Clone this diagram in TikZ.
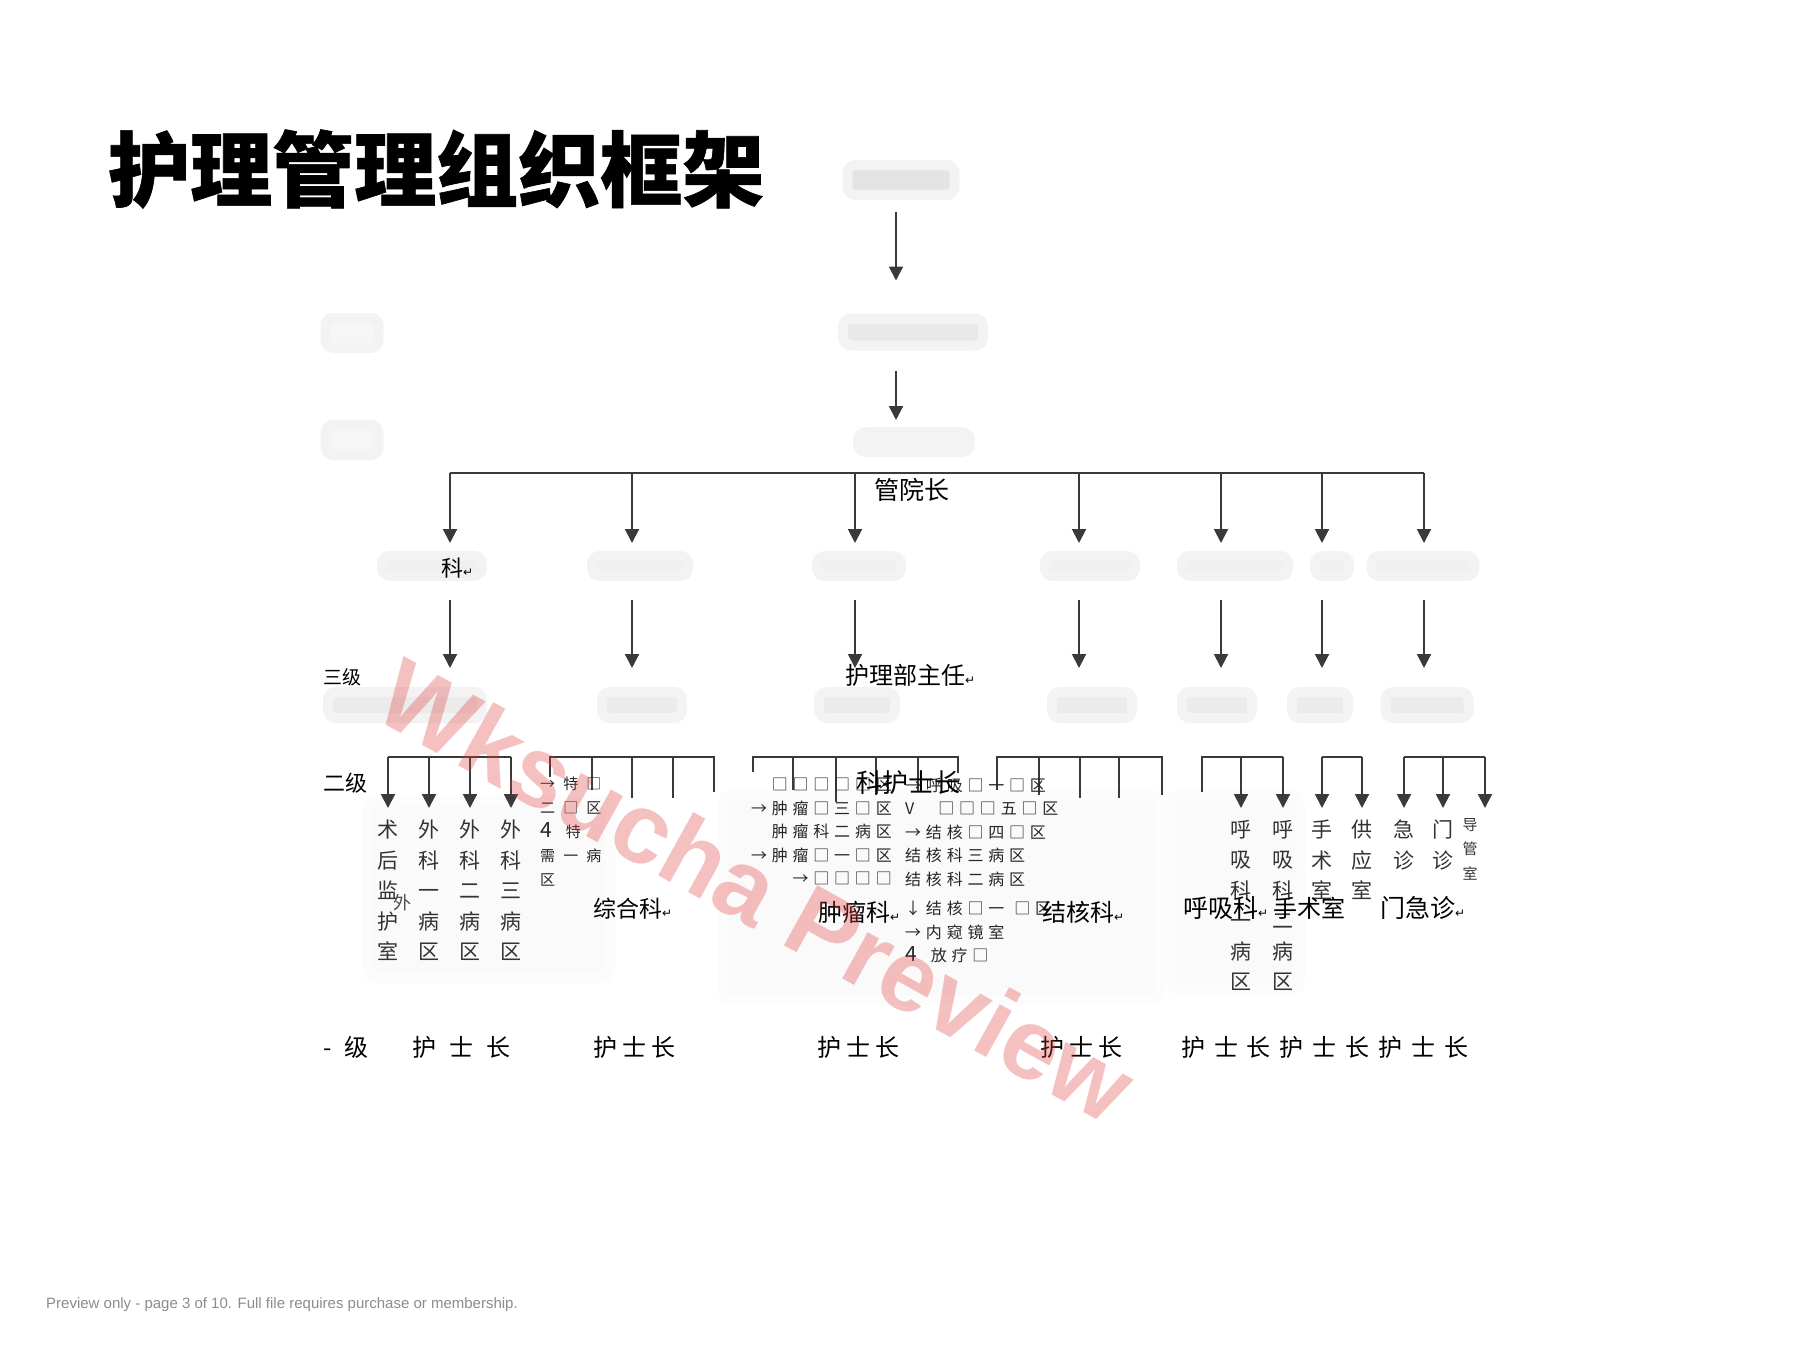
\documentclass[tikz,border=0pt]{standalone}
\usepackage{fontspec}
\setmainfont{Liberation Sans}
\newfontfamily\cjk{Noto Sans CJK SC}
\newfontfamily\cjktitle[BoldFeatures={FakeBold=0.8}]{Noto Sans CJK SC}
\newfontfamily\cjkn[LetterSpace=21]{Noto Sans CJK SC}
\newfontfamily\cjkw[LetterSpace=30]{Noto Sans CJK SC}
\newfontfamily\cjky[LetterSpace=37]{Noto Sans CJK SC}
\newfontfamily\cjkx[LetterSpace=54]{Noto Sans CJK SC}
\newfontfamily\symfont{DejaVu Sans}
\usetikzlibrary{arrows.meta, positioning, calc}
\definecolor{linegray}{HTML}{3A3A3A}
\definecolor{smudgegray}{HTML}{E4E4E4}
\definecolor{markpink}{HTML}{E23C3C}
\definecolor{footgray}{HTML}{8C8C8C}
\newcommand{\pxsize}[1]{\fontsize{#1}{#1}\selectfont}
\newcommand{\pxline}[2]{\fontsize{#1}{#2}\selectfont}
\newcommand{\ret}{{\symfont\fontsize{12}{12}\selectfont\char"21B5}}

\begin{document}
\begin{tikzpicture}[x=1pt, y=-1pt,
  line/.style={draw=linegray, line width=2pt},
  arrow/.style={line, -{Triangle[width=14pt, length=14pt]}},
  smudge/.style={fill=smudgegray, draw=smudgegray!45, line width=10pt, rounded corners=8pt, inner sep=0pt},
  haze/.style={fill=black!2, draw=black!1, line width=10pt, rounded corners=10pt},
  lbl/.style={inner sep=0pt, font=\cjk\pxsize{24}},
  vcol/.style={inner sep=0pt, anchor=north, align=center, text=black!80, font=\cjk\pxline{21}{30.4}},
  memo/.style={inner sep=0pt, text=black!85, font=\cjkw\pxline{16}{23.5}}
]
  % Page
  \fill[white] (0,0) rectangle (1800,1350);
  \useasboundingbox (0,0) rectangle (1800,1350);

  % Faded scan
  \filldraw[haze] (367,800) rectangle (610,978);
  \filldraw[haze] (723,795) rectangle (1160,1000);
  \filldraw[haze] (1170,795) rectangle (1300,990);

  % Title
  \node[inner sep=0pt, anchor=west, font=\cjktitle\bfseries\pxsize{82}] (title) at (108,169) {护理管理组织框架};

  % Blurred top chain
  \node[smudge, minimum width=107pt, minimum height=30pt] (dean) at (901,180) {};
  \node[smudge, fill=smudgegray!80, minimum width=140pt, minimum height=27pt] (vice) at (913,332) {};
  \node[smudge, fill=smudgegray!45, minimum width=112pt, minimum height=20pt] (dept) at (914,442) {};
  \node[smudge, fill=smudgegray!35, minimum width=53pt, minimum height=30pt] (sideA) at (352,333) {};
  \node[smudge, fill=smudgegray!35, minimum width=53pt, minimum height=30pt] (sideB) at (352,440) {};
  \coordinate (axis) at (896,0);
  \draw[arrow, shorten <=12pt, shorten >=33pt] (axis |- dean.south) -- (axis |- vice.north);
  \draw[arrow, shorten <=20pt, shorten >=7pt] (axis |- vice.south) -- (axis |- dept.north);

  % Main bar
  \coordinate (c1) at (450,473);
  \coordinate (c2) at (632,473);
  \coordinate (c3) at (855,473);
  \coordinate (c4) at (1079,473);
  \coordinate (c5) at (1221,473);
  \coordinate (c6) at (1322,473);
  \coordinate (c7) at (1424,473);
  \draw[line] (c1) -- (c7);

  % Blurred department row
  \node[smudge, fill=smudgegray!55, minimum width=100pt, minimum height=20pt] (k1) at (432,566) {};
  \node[smudge, fill=smudgegray!55, minimum width=96pt, minimum height=20pt] (k2) at (640,566) {};
  \node[smudge, fill=smudgegray!55, minimum width=84pt, minimum height=20pt] (k3) at (859,566) {};
  \node[smudge, fill=smudgegray!55, minimum width=90pt, minimum height=20pt] (k4) at (1090,566) {};
  \node[smudge, fill=smudgegray!55, minimum width=106pt, minimum height=20pt] (k5) at (1235,566) {};
  \node[smudge, fill=smudgegray!55, minimum width=34pt, minimum height=20pt] (k6) at (1332,566) {};
  \node[smudge, fill=smudgegray!55, minimum width=103pt, minimum height=20pt] (k7) at (1423,566) {};

  % Blurred head nurse row
  \node[smudge, fill=smudgegray!75, minimum width=154pt, minimum height=26pt] (h1) at (405,705) {};
  \node[smudge, fill=smudgegray!75, minimum width=80pt, minimum height=26pt] (h2) at (642,705) {};
  \node[smudge, fill=smudgegray!75, minimum width=76pt, minimum height=26pt] (h3) at (857,705) {};
  \node[smudge, fill=smudgegray!75, minimum width=80pt, minimum height=26pt] (h4) at (1092,705) {};
  \node[smudge, fill=smudgegray!75, minimum width=70pt, minimum height=26pt] (h5) at (1217,705) {};
  \node[smudge, fill=smudgegray!75, minimum width=56pt, minimum height=26pt] (h6) at (1320,705) {};
  \node[smudge, fill=smudgegray!75, minimum width=83pt, minimum height=26pt] (h7) at (1427,705) {};

  \draw[arrow, shorten >=8pt] (c1) -- (c1 |- k1.north);
  \draw[arrow, shorten >=8pt] (c2) -- (c2 |- k2.north);
  \draw[arrow, shorten >=8pt] (c3) -- (c3 |- k3.north);
  \draw[arrow, shorten >=8pt] (c4) -- (c4 |- k4.north);
  \draw[arrow, shorten >=8pt] (c5) -- (c5 |- k5.north);
  \draw[arrow, shorten >=8pt] (c6) -- (c6 |- k6.north);
  \draw[arrow, shorten >=8pt] (c7) -- (c7 |- k7.north);

  \draw[arrow, shorten <=19pt, shorten >=19pt] (c1 |- k1.south) -- (c1 |- h1.north);
  \draw[arrow, shorten <=19pt, shorten >=19pt] (c2 |- k2.south) -- (c2 |- h2.north);
  \draw[arrow, shorten <=19pt, shorten >=19pt] (c3 |- k3.south) -- (c3 |- h3.north);
  \draw[arrow, shorten <=19pt, shorten >=19pt] (c4 |- k4.south) -- (c4 |- h4.north);
  \draw[arrow, shorten <=19pt, shorten >=19pt] (c5 |- k5.south) -- (c5 |- h5.north);
  \draw[arrow, shorten <=19pt, shorten >=19pt] (c6 |- k6.south) -- (c6 |- h6.north);
  \draw[arrow, shorten <=19pt, shorten >=19pt] (c7 |- k7.south) -- (c7 |- h7.north);

  % Level labels
  \node[lbl, anchor=west, font=\cjk\pxsize{19}] (sanji) at (323,677) {三级};
  \node[lbl, anchor=west, font=\cjk\pxsize{22}] (erji) at (323,783) {二级};
  \node[lbl, anchor=west] (yiji) at (323,1047) {-\hspace{13pt}级};
  \node[lbl, font=\cjk\pxsize{25}] (guan) at (912,490) {管院长};
  \node[lbl, anchor=west, font=\cjk\pxsize{22}] (ke) at (441,568) {科\ret};
  \node[lbl, anchor=west] (hulibu) at (845,675) {护理部主任\ret};

  % Ward units
  \coordinate (rail) at (0,757);
  \node[vcol] (sk1) at (388,820) {术\\后\\监\\护\\室};
  \node[vcol] (sk2) at (429,820) {外\\科\\一\\病\\区};
  \node[vcol] (sk3) at (470,820) {外\\科\\二\\病\\区};
  \node[vcol] (sk4) at (511,820) {外\\科\\三\\病\\区};
  \node[inner sep=0pt, text=black!70, font=\cjk\pxsize{18}] (wai) at (402,903) {外};
  \draw[line] (sk1 |- rail) -- (sk4 |- rail);
  \draw[arrow, shorten >=12pt] (sk1 |- rail) -- (sk1);
  \draw[arrow, shorten >=12pt] (sk2 |- rail) -- (sk2);
  \draw[arrow, shorten >=12pt] (sk3 |- rail) -- (sk3);
  \draw[arrow, shorten >=12pt] (sk4 |- rail) -- (sk4);

  \coordinate (zha) at (550,777);
  \coordinate (zhb) at (592,790);
  \coordinate (zhc) at (632,798);
  \coordinate (zhd) at (673,798);
  \coordinate (zhe) at (714,792);
  \draw[line] (zha) -- (zha |- rail) -- (zhe |- rail) -- (zhe);
  \draw[line] (zhb |- rail) -- (zhb);
  \draw[line] (zhc |- rail) -- (zhc);
  \draw[line] (zhd |- rail) -- (zhd);

  \coordinate (zla) at (753,772);
  \coordinate (zlb) at (793,790);
  \coordinate (zlc) at (836,802);
  \coordinate (zld) at (876,795);
  \coordinate (zle) at (918,792);
  \coordinate (zlf) at (958,773);
  \draw[line] (zla) -- (zla |- rail) -- (zlf |- rail) -- (zlf);
  \draw[line] (zlb |- rail) -- (zlb);
  \draw[line] (zlc |- rail) -- (zlc);
  \draw[line] (zld |- rail) -- (zld);
  \draw[line] (zle |- rail) -- (zle);

  \coordinate (jha) at (997,790);
  \coordinate (jhb) at (1039,795);
  \coordinate (jhc) at (1080,798);
  \coordinate (jhd) at (1119,798);
  \coordinate (jhe) at (1162,795);
  \draw[line] (jha) -- (jha |- rail) -- (jhe |- rail) -- (jhe);
  \draw[line] (jhb |- rail) -- (jhb);
  \draw[line] (jhc |- rail) -- (jhc);
  \draw[line] (jhd |- rail) -- (jhd);

  \node[vcol] (hx1) at (1241,820) {呼\\吸\\科\\一\\病\\区};
  \node[vcol] (hx2) at (1283,820) {呼\\吸\\科\\二\\病\\区};
  \node[vcol] (ss) at (1322,820) {手\\术\\室};
  \node[vcol] (gy) at (1362,820) {供\\应\\室};
  \node[vcol] (jz) at (1404,820) {急\\诊};
  \node[vcol] (mz) at (1443,820) {门\\诊};
  \node[vcol, font=\cjk\pxline{15}{24.5}] (dg) at (1470,818) {导\\管\\室};
  \coordinate (hxa) at (1202,792);
  \coordinate (dgc) at (1485,808);
  \draw[line] (hxa) -- (hxa |- rail) -- (hx2 |- rail);
  \draw[line] (ss |- rail) -- (gy |- rail);
  \draw[line] (jz |- rail) -- (dgc |- rail);
  \draw[arrow, shorten >=12pt] (hx1 |- rail) -- (hx1);
  \draw[arrow, shorten >=12pt] (hx2 |- rail) -- (hx2);
  \draw[arrow, shorten >=12pt] (ss |- rail) -- (ss);
  \draw[arrow, shorten >=12pt] (gy |- rail) -- (gy);
  \draw[arrow, shorten >=12pt] (jz |- rail) -- (jz);
  \draw[arrow, shorten >=12pt] (mz |- rail) -- (mz);
  \draw[arrow] (dgc |- rail) -- (dgc);

  % Ward notes
  \node[memo, anchor=north west, align=left, font=\cjkx\pxline{15}{23.8}] (tebie) at (540,777)
    {→特□\\二□区\\{\pxsize{21}4}\hspace{14pt}特\\需一病\\区};
  \node[memo, anchor=north east, align=right] (zlnote) at (892,778)
    {□□□□□区\\→肿瘤□三□区\\肿瘤科二病区\\→肿瘤□一□区\\→□□□□};
  \node[memo, anchor=north west, align=left] (jhnote) at (905,778)
    {→呼吸□一□区\\V\hspace{24pt}□□□五□区\\→结核□四□区\\结核科三病区\\结核科二病区\\[6pt]↓结核□一\hspace{10pt}□区\\→内窥镜室\\{\pxsize{21}4}\hspace{14pt}放疗□};

  % Department heads
  \node[lbl, font=\cjk\pxsize{26}] (kehu) at (908,783) {科护士长};
  \node[lbl, anchor=west, font=\cjk\pxsize{23}] (zonghe) at (593,909) {综合科\ret};
  \node[lbl, anchor=west] (zhongliu) at (818,912) {肿瘤科\ret};
  \node[lbl, anchor=west] (jiehe) at (1042,912) {结核科\ret};
  \node[lbl, anchor=west, font=\cjk\pxsize{25}] (huxi) at (1183,908) {呼吸科\ret};
  \node[lbl, anchor=west] (shoushu) at (1273,908) {手术室};
  \node[lbl, anchor=west, font=\cjk\pxsize{25}] (menji) at (1380,908) {门急诊\ret};

  % Head nurses
  \node[lbl, anchor=west, font=\cjkx\pxsize{24}] (hs1) at (412,1047) {护士长};
  \node[lbl, anchor=west, font=\cjkn\pxsize{24}] (hs2) at (593,1047) {护士长};
  \node[lbl, anchor=west, font=\cjkn\pxsize{24}] (hs3) at (817,1047) {护士长};
  \node[lbl, anchor=west, font=\cjkn\pxsize{24}] (hs4) at (1040,1047) {护士长};
  \node[lbl, anchor=west, font=\cjky\pxsize{24}] (hs5) at (1181,1047) {护士长护士长护士长};

  % Footer and watermark
  \node[inner sep=0pt, anchor=west, text=footgray, font=\pxsize{15}] (foot) at (46,1305)
    {Preview only - page 3 of 10. Full file requires purchase or membership.};
  \node[inner sep=0pt, rotate=-29, text=markpink, text opacity=0.32, font=\bfseries\pxsize{100}] (mark) at (757,890) {Wksucha Preview};
\end{tikzpicture}
\end{document}
